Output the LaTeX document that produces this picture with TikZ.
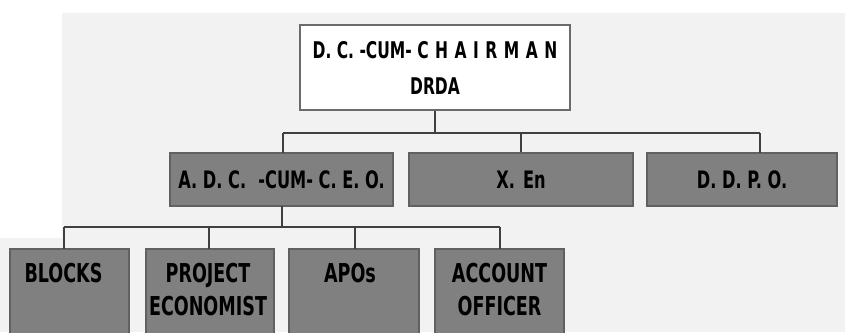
\documentclass[tikz,border=0pt]{standalone}
\usepackage{fontspec}
\setmainfont{DejaVu Sans Condensed}
\newfontfamily\boxfont[FakeStretch=0.75]{DejaVu Sans Condensed}
\newcommand{\lsp}{\hspace{6.5pt}}
\begin{document}
\begin{tikzpicture}[x=1pt,y=-1pt,
  topbox/.style={draw=black!58, line width=2.2pt, fill=white, minimum width=270pt, minimum height=85pt, inner sep=0pt, align=center, font=\boxfont\bfseries\fontsize{23}{36}\selectfont},
  midbox/.style={draw=black!62, line width=1.6pt, fill=black!50, minimum height=53pt, inner sep=0pt, font=\boxfont\bfseries\fontsize{24}{26}\selectfont},
  lowbox/.style={draw=black!62, line width=1.6pt, fill=black!50, inner sep=0pt},
  lowtext/.style={anchor=north, align=center, inner sep=0pt, font=\boxfont\bfseries\fontsize{26}{33}\selectfont},
  conn/.style={draw=black!75, line width=1.1pt}]
\useasboundingbox (0,0) rectangle (845,332);
\begin{scope}
\clip (0,0) rectangle (845,332);
\fill[black!5] (0,0) rectangle (845,332);
\fill[white] (0,0) rectangle (845,13);
\fill[white] (0,0) rectangle (62,238);

% top
\node[topbox] (top) at (435,67.5) {D. C. -CUM- C\lsp H\lsp A\lsp I\lsp R\lsp M\lsp A\lsp N\\DRDA};
% middle row
\node[midbox, minimum width=223pt] (adc) at (281.5,179.5) {A. D. C. \;-CUM- C. E. O.};
\node[midbox, minimum width=224pt] (xen) at (521,179.5) {X.\,\,En};
\node[midbox, minimum width=190pt] (ddpo) at (742,179.5) {D. D. P. O.};
% bottom row
\node[lowbox, minimum width=119pt, minimum height=95pt] (blk) at (69.5,296.5) {};
\node[lowbox, minimum width=128pt, minimum height=95pt] (pe) at (210,296.5) {};
\node[lowbox, minimum width=130pt, minimum height=95pt] (apo) at (354,296.5) {};
\node[lowbox, minimum width=129pt, minimum height=95pt] (acc) at (499.5,296.5) {};
\node[lowtext] (tblk) at ([xshift=-6pt,yshift=-15pt]blk.north) {BLOCKS};
\node[lowtext] (tpe) at ([xshift=-2pt,yshift=-15pt]pe.north) {PROJECT\\ECONOMIST};
\node[lowtext] (tapo) at ([xshift=-4pt,yshift=-15pt]apo.north) {APOs};
\node[lowtext] (tacc) at ([yshift=-15pt]acc.north) {ACCOUNT\\OFFICER};

% connectors
\coordinate (h1) at (top.south |- 0,133);
\draw[conn] (top.south) -- (h1);
\draw[conn] (283,133) -- (760,133);
\draw[conn] (283,133) -- (283,153);
\draw[conn] (521,133) -- (xen.north);
\draw[conn] (760,133) -- (760,153);
\coordinate (h2) at (282,227);
\draw[conn] (282,206) -- (h2);
\draw[conn] (64,227) -- (500,227);
\draw[conn] (64,227) -- (64,249);
\draw[conn] (209,227) -- (209,249);
\draw[conn] (355,227) -- (355,249);
\draw[conn] (500,227) -- (500,249);
\end{scope}
\end{tikzpicture}
\end{document}
